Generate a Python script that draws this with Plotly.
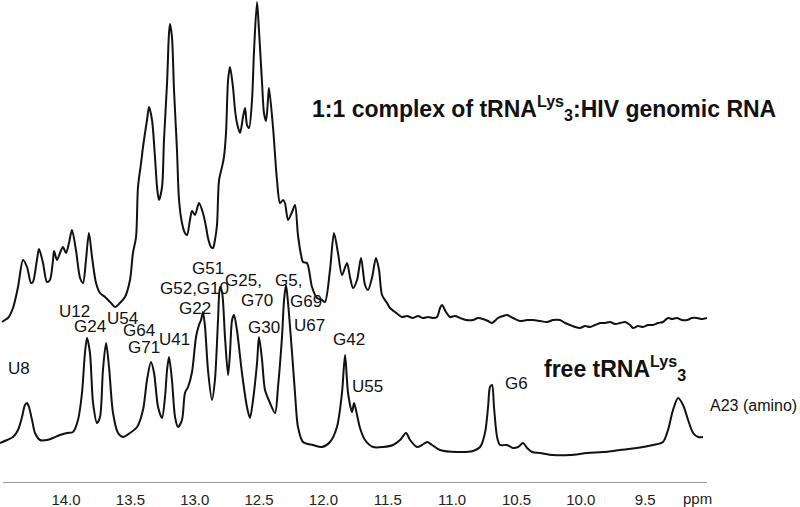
import plotly.graph_objects as go

# ---------------- data (chemical shift in ppm, intensity in arbitrary units) -------------
complex_ppm = [14.497, 14.474, 14.451, 14.412, 14.373, 14.334, 14.303, 14.272, 14.257, 14.226,
               14.210, 14.179, 14.148, 14.125, 14.101, 14.093, 14.070, 14.047, 14.024, 14.000,
               13.977, 13.954, 13.923, 13.891, 13.868, 13.845, 13.822, 13.798, 13.767, 13.736,
               13.697, 13.658, 13.619, 13.581, 13.542, 13.503, 13.480, 13.456, 13.441, 13.417,
               13.402, 13.371, 13.355, 13.332, 13.309, 13.293, 13.278, 13.254, 13.239, 13.215,
               13.200, 13.192, 13.177, 13.161, 13.138, 13.122, 13.099, 13.076, 13.060, 13.037,
               13.021, 12.998, 12.967, 12.936, 12.912, 12.897, 12.874, 12.858, 12.843, 12.827,
               12.811, 12.788, 12.773, 12.757, 12.741, 12.726, 12.703, 12.687, 12.672, 12.648,
               12.625, 12.609, 12.594, 12.578, 12.555, 12.539, 12.516, 12.501, 12.477, 12.462,
               12.446, 12.431, 12.423, 12.392, 12.361, 12.337, 12.314, 12.299, 12.275, 12.244,
               12.221, 12.198, 12.174, 12.159, 12.128, 12.089, 12.050, 12.011, 11.988, 11.949,
               11.918, 11.887, 11.856, 11.817, 11.794, 11.770, 11.739, 11.708, 11.677, 11.654,
               11.623, 11.592, 11.568, 11.545, 11.506, 11.483, 11.444, 11.390, 11.351, 11.304,
               11.265, 11.226, 11.187, 11.149, 11.118, 11.094, 11.079, 11.048, 11.017, 10.978,
               10.939, 10.892, 10.838, 10.799, 10.760, 10.721, 10.690, 10.644, 10.605, 10.574,
               10.527, 10.473, 10.418, 10.372, 10.317, 10.263, 10.216, 10.162, 10.123, 10.084,
               10.045, 10.006, 9.968, 9.929, 9.890, 9.851, 9.812, 9.773, 9.734, 9.696,
               9.657, 9.618, 9.595, 9.556, 9.517, 9.478, 9.439, 9.400, 9.362, 9.323,
               9.292, 9.253, 9.214, 9.175, 9.136, 9.097, 9.059, 9.020]
complex_int = [-2, 0, 2, 12, 33, 60, 53, 37, 38, 60,
               71, 57, 38, 40, 60, 69, 60, 67, 73, 67,
               77, 90, 70, 42, 37, 60, 87, 63, 37, 27,
               23, 18, 13, 17, 23, 40, 67, 83, 133, 157,
               173, 200, 213, 200, 163, 133, 120, 133, 180, 237,
               287, 296, 283, 230, 170, 120, 97, 87, 85, 100,
               109, 105, 117, 107, 93, 82, 73, 72, 80, 95,
               140, 153, 163, 187, 240, 253, 233, 210, 197, 187,
               203, 212, 195, 192, 220, 270, 318, 290, 237, 207,
               199, 220, 232, 193, 140, 117, 120, 117, 100, 108,
               115, 85, 65, 58, 57, 33, 22, 20, 18, 50,
               87, 67, 45, 57, 43, 32, 40, 62, 35, 30,
               42, 62, 50, 25, 17, 12, 8, 3, 4, 2,
               4, 2, 3, 2, 3, 12, 15, 8, 3, 4,
               2, 0, 0, 2, 1, -1, -3, 2, 4, 5,
               2, -1, 0, 0, -1, -2, 0, 0, -3, -5,
               -7, -8, -6, -7, -5, -3, -3, -2, -4, -3,
               -2, -5, -8, -6, -7, -5, -5, -3, -2, 2,
               1, 2, 0, 0, 2, 2, 1, 2]

free_ppm = [14.513, 14.459, 14.412, 14.373, 14.342, 14.319, 14.303, 14.288, 14.264, 14.241,
            14.202, 14.148, 14.101, 14.047, 13.992, 13.946, 13.907, 13.876, 13.853, 13.837,
            13.814, 13.790, 13.759, 13.736, 13.713, 13.689, 13.666, 13.635, 13.596, 13.557,
            13.503, 13.448, 13.402, 13.371, 13.340, 13.316, 13.285, 13.254, 13.231, 13.215,
            13.200, 13.177, 13.153, 13.130, 13.099, 13.076, 13.052, 13.021, 12.990, 12.967,
            12.951, 12.936, 12.920, 12.897, 12.866, 12.843, 12.819, 12.804, 12.788, 12.765,
            12.741, 12.726, 12.710, 12.695, 12.672, 12.633, 12.594, 12.571, 12.547, 12.516,
            12.501, 12.477, 12.454, 12.415, 12.376, 12.353, 12.322, 12.306, 12.291, 12.275,
            12.244, 12.221, 12.198, 12.159, 12.081, 12.011, 11.949, 11.895, 11.856, 11.832,
            11.809, 11.778, 11.762, 11.739, 11.716, 11.677, 11.615, 11.537, 11.459, 11.405,
            11.358, 11.327, 11.273, 11.234, 11.195, 11.156, 11.094, 10.962, 10.838, 10.783,
            10.745, 10.721, 10.706, 10.690, 10.675, 10.651, 10.628, 10.574, 10.527, 10.488,
            10.449, 10.418, 10.379, 10.317, 10.216, 10.084, 9.952, 9.828, 9.696, 9.564,
            9.439, 9.362, 9.323, 9.284, 9.245, 9.206, 9.167, 9.128, 9.089, 9.051]
free_int = [10, 13, 16, 23, 36, 48, 50, 46, 33, 20,
            13, 13, 15, 18, 20, 21, 33, 60, 100, 115,
            100, 50, 30, 36, 83, 110, 86, 40, 20, 16,
            20, 26, 43, 73, 91, 80, 46, 35, 56, 83,
            96, 73, 36, 26, 33, 60, 66, 81, 116, 128,
            133, 141, 126, 83, 53, 73, 133, 166, 161, 116,
            78, 100, 133, 138, 123, 80, 46, 35, 53, 90,
            116, 93, 63, 50, 40, 66, 116, 153, 168, 150,
            100, 60, 26, 11, 8, 6, 11, 26, 60, 98,
            60, 41, 50, 38, 25, 13, 6, 6, 8, 13,
            20, 13, 6, 8, 11, 8, 3, 1, 2, 6,
            20, 46, 66, 68, 46, 16, 8, 8, 5, 6,
            10, 5, 1, 0, -2, -2, 0, 1, 3, 5,
            8, 11, 23, 43, 55, 48, 33, 20, 16, 16]

tick_vals = [14.0, 13.5, 13.0, 12.5, 12.0, 11.5, 11.0, 10.5, 10.0, 9.5]
tick_text = ["14.0", "13.5", "13.0", "12.5", "12.0", "11.5", "11.0", "10.5", "10.0", "9.5"]

# peak assignments of the free tRNA spectrum: (label, ppm of label's left edge, height of label centre)
peak_labels = ["U8", "U12", "G24", "U54", "G64", "G71", "U41", "G51", "G52,G10", "G22",
               "G25,", "G70", "G30", "G5,", "G69", "U67", "G42", "U55", "G6"]
label_ppm = [14.468, 14.071, 13.954, 13.697, 13.573, 13.534, 13.293, 13.037, 13.285, 13.138,
             12.780, 12.656, 12.602, 12.392, 12.275, 12.244, 11.941, 11.794, 10.605]
label_height = [115, 171.5, 157, 165, 153, 136, 144, 214.5, 194.5, 174.5,
                202.5, 182.5, 156, 203, 182, 158, 143.5, 96.5, 99.5]

# ---------------- style / placement -------------
FREE_OFFSET = 30
COMPLEX_OFFSET = 163
FONT = "Liberation Sans, Arial, Helvetica, sans-serif"
LINE_COLOR = "#111111"

fig = go.Figure()
fig.add_trace(go.Scatter(
    x=complex_ppm, y=[v + COMPLEX_OFFSET for v in complex_int],
    mode="lines", line=dict(color=LINE_COLOR, width=2, shape="spline", smoothing=0.8),
    hoverinfo="skip", showlegend=False))
fig.add_trace(go.Scatter(
    x=free_ppm, y=[v + FREE_OFFSET for v in free_int],
    mode="lines", line=dict(color=LINE_COLOR, width=2, shape="spline", smoothing=0.8),
    hoverinfo="skip", showlegend=False))

annotations = []
for txt, px, hy in zip(peak_labels, label_ppm, label_height):
    annotations.append(dict(x=px, y=hy, xref="x", yref="y", text=txt, showarrow=False,
                            xanchor="left", yanchor="middle",
                            font=dict(family=FONT, size=17, color="#111111")))
annotations.append(dict(x=1.0014, y=78, xref="paper", yref="y", text="A23 (amino)",
                        showarrow=False, xanchor="left", yanchor="middle",
                        font=dict(family=FONT, size=16, color="#111111")))
annotations.append(dict(x=10.302, y=115, xref="x", yref="y",
                        text="<b>free tRNA<sup>Lys</sup><sub>3</sub></b>",
                        showarrow=False, xanchor="left", yanchor="middle",
                        font=dict(family=FONT, size=23, color="#111111")))
annotations.append(dict(x=0.4385, y=375, xref="paper", yref="y",
                        text="<b>1:1 complex of tRNA<sup>Lys</sup><sub>3</sub>:HIV genomic RNA</b>",
                        showarrow=False, xanchor="left", yanchor="middle",
                        font=dict(family=FONT, size=23, color="#111111")))
annotations.append(dict(x=9.097, y=-0.033, xref="x", yref="paper", text="ppm",
                        showarrow=False, xanchor="center", yanchor="middle",
                        font=dict(family=FONT, size=15, color="#222222")))

fig.update_layout(
    width=800, height=507,
    margin=dict(l=0, r=93, t=0, b=24, autoexpand=False),
    paper_bgcolor="white", plot_bgcolor="white",
    annotations=annotations,
    shapes=[dict(type="line", xref="x", yref="y", x0=14.49, x1=9.02, y0=0, y1=0,
                 line=dict(color="#333333", width=1))],
    xaxis=dict(range=[14.513, 9.020], tickvals=tick_vals, ticktext=tick_text,
               showgrid=False, zeroline=False, showline=False,
               ticks="outside", ticklen=3, tickcolor="rgba(0,0,0,0)",
               tickfont=dict(family=FONT, size=15, color="#222222"), automargin=False),
    yaxis=dict(range=[0, 483], visible=False, showgrid=False, zeroline=False,
               automargin=False),
)

fig.write_html("out.html", config={"displayModeBar": False},
               post_script="document.body.style.margin='0';document.body.style.overflow='hidden';")
